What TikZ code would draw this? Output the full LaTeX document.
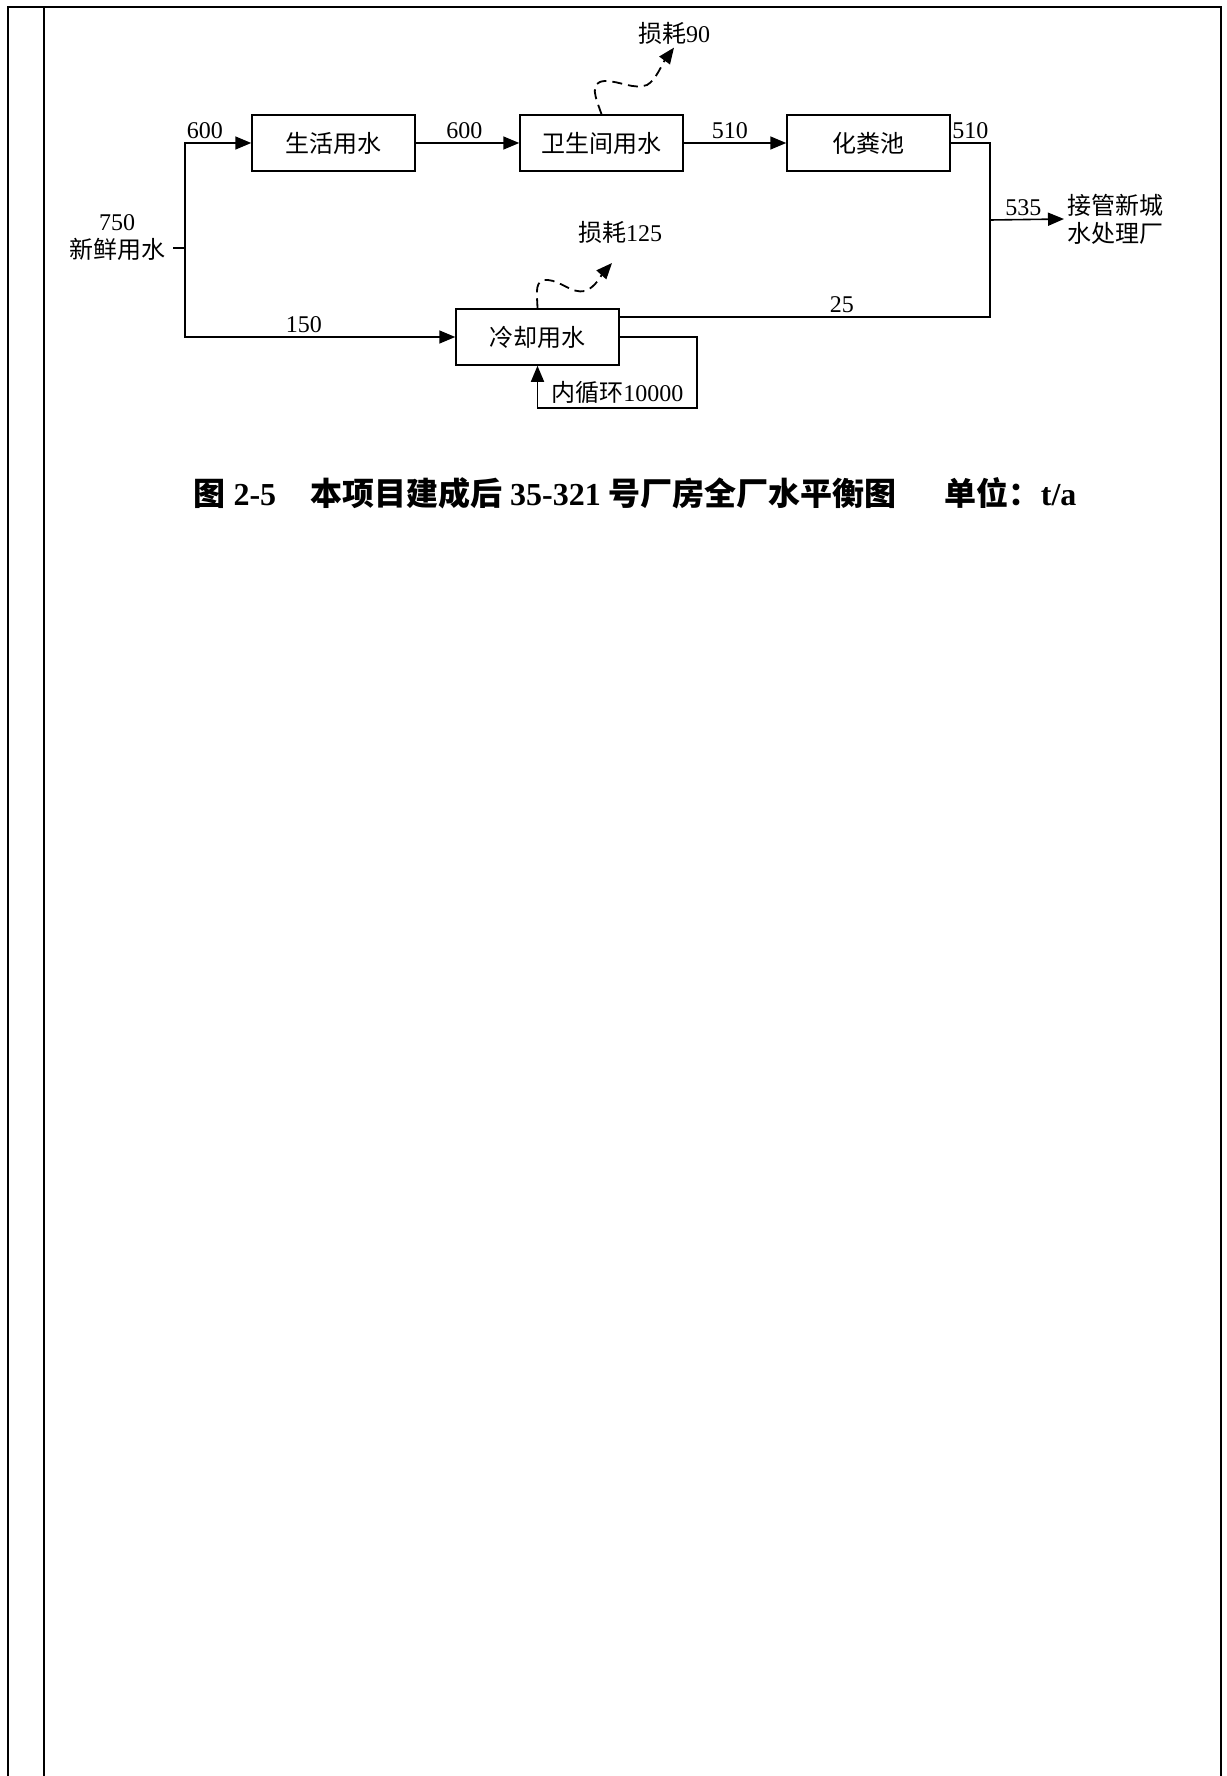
\documentclass[tikz,border=0pt]{standalone}
\usepackage{fontspec}
\setmainfont{Liberation Serif}
\newfontfamily\cjk{Noto Sans CJK SC}
\usepackage{tikz}
\usetikzlibrary{calc,positioning,arrows.meta}

\begin{document}
\begin{tikzpicture}[x=1pt,y=-1pt,
	box/.style={draw,line width=1.5pt,minimum width=163pt,minimum height=56pt,inner sep=0pt,font=\cjk\fontsize{24}{28}\selectfont},
	lbl/.style={font=\fontsize{24}{28}\selectfont},
	flow/.style={line width=1.6pt,-{Triangle[length=16pt,width=13pt]}},
	pipe/.style={line width=1.6pt},
	loss/.style={line width=1.8pt,dash pattern=on 10pt off 6pt,-{Triangle[length=16pt,width=13pt]}}]
\useasboundingbox (0,0) rectangle (1226,1776);
% frame
\draw[line width=2.5pt] (8,1776) -- (8,7) -- (1221,7) -- (1221,1776);
\draw[line width=1.2pt] (44,7) -- (44,1776);
% boxes
\node[box] (life) at (333.5,143) {生活用水};
\node[box] (wc) at (601.5,143) {卫生间用水};
\node[box] (septic) at (868.5,143) {化粪池};
\node[box] (cool) at (537.5,337) {冷却用水};
\node[lbl,align=center,inner xsep=8pt] (fresh) at (117,238) {750\\{\cjk 新鲜用水}};
\node[lbl,align=left,anchor=west] (plant) at (1064,219) {{\cjk 接管新城}\\{\cjk 水处理厂}};
\node[lbl] (loss90) at (674,33) {{\cjk 损耗}90};
\node[lbl] (loss125) at (620,232) {{\cjk 损耗}125};
\coordinate (split) at (185,248);
\coordinate (merge) at (990,220);
\coordinate (loopc) at (697,408);
\coordinate (tip125) at (612,263);
% fresh water
\draw[pipe] (fresh.east |- split) -- (split);
\draw[flow] (split) |- node[lbl,above,pos=0.65] {600} (life.west);
\draw[flow] (split) |- node[lbl,above,pos=0.72] {150} (cool.west);
\draw[flow] (life) -- node[lbl,above,pos=0.47] {600} (wc);
\draw[flow] (wc) -- node[lbl,above,pos=0.45] {510} (septic);
% to plant
\draw[pipe] (septic.east) -| node[lbl,above,pos=0.25] {510} (merge);
\draw[pipe] ([yshift=-9pt]cool.north east) -| node[lbl,above,pos=0.3] {25} (merge);
\draw[flow] (merge) -- node[lbl,above,pos=0.45] {535} (plant.west);
% loop
\draw[flow] (cool.east) -| (loopc) -| node[lbl,above,pos=0.25] {{\cjk 内循环}10000} (cool.south);
% losses
\draw[loss] (wc.north) .. controls (596,98) and (588,82) .. (605,81) .. controls (620,81) and (634,90) .. (647,85) .. controls (656,80) and (662,64) .. (loss90.south);
\draw[loss] (cool.north) .. controls (537,292) and (534,279) .. (548,280) .. controls (561,281) and (572,294) .. (585,291) .. controls (595,288) and (603,273) .. (tip125);
% caption
\node[font=\bfseries\fontsize{32}{36}\selectfont] (title) at (635,493) {{\cjk 图} 2-5\hspace{34pt}{\cjk 本项目建成后} 35-321 {\cjk 号厂房全厂水平衡图}\hspace{48pt}{\cjk 单位：}t/a};
\end{tikzpicture}
\end{document}
